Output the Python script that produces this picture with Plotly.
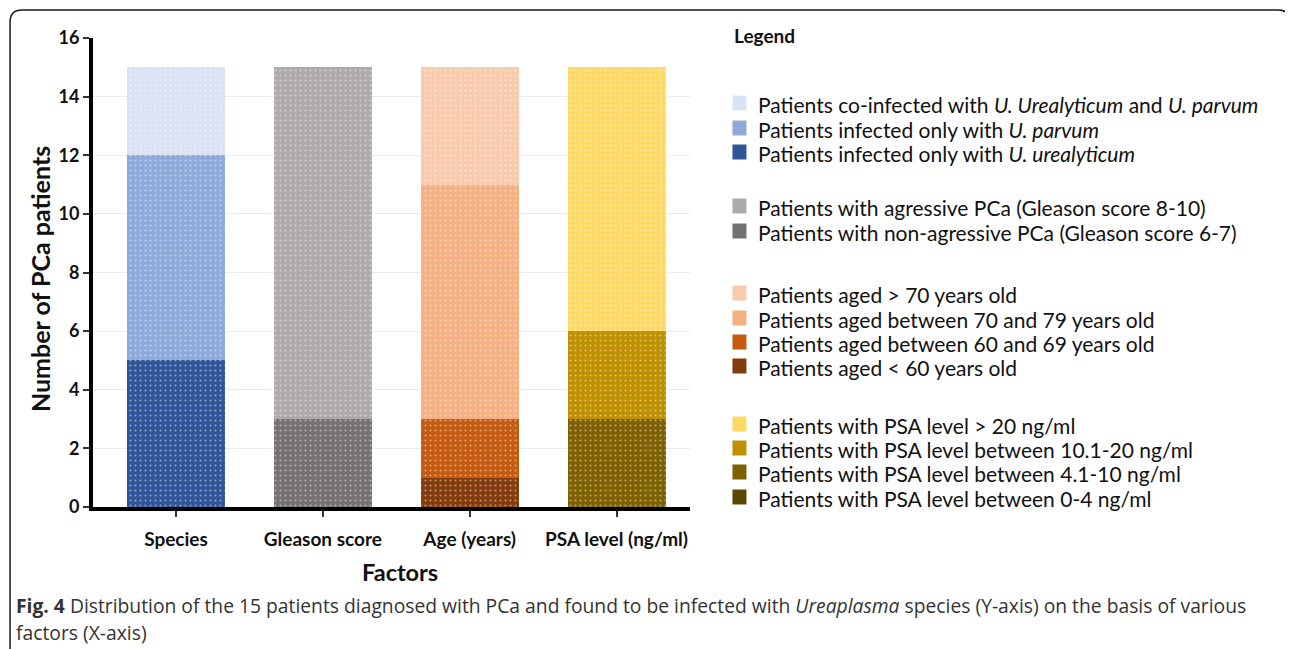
import plotly.graph_objects as go

# ---------------- data ----------------
categories = ["Species", "Gleason score", "Age (years)", "PSA level (ng/ml)"]

# each group listed bottom -> top of its stacked bar
species_names = ["Patients infected only with <i>U. urealyticum</i>",
                 "Patients infected only with <i>U. parvum</i>",
                 "Patients co-infected with <i>U. Urealyticum</i> and <i>U. parvum</i>"]
species_values = [5, 7, 3]
species_colors = ["#2f5597", "#8eaadb", "#dae3f3"]

gleason_names = ["Patients with non-agressive PCa (Gleason score 6-7)",
                 "Patients with agressive PCa (Gleason score 8-10)"]
gleason_values = [3, 12]
gleason_colors = ["#767171", "#aeaaaa"]

age_names = ["Patients aged < 60 years old",
             "Patients aged between 60 and 69 years old",
             "Patients aged between 70 and 79 years old",
             "Patients aged > 70 years old"]
age_values = [1, 2, 8, 4]
age_colors = ["#843c0c", "#c55a11", "#f4b183", "#f8cbad"]

psa_names = ["Patients with PSA level between 0-4 ng/ml",
             "Patients with PSA level between 4.1-10 ng/ml",
             "Patients with PSA level between 10.1-20 ng/ml",
             "Patients with PSA level > 20 ng/ml"]
psa_values = [0, 3, 3, 9]
psa_colors = ["#5c4600", "#7f6000", "#bf9000", "#ffd966"]

y_ticks = [0, 2, 4, 6, 8, 10, 12, 14, 16]

groups = [(categories[0], species_names, species_values, species_colors),
          (categories[1], gleason_names, gleason_values, gleason_colors),
          (categories[2], age_names, age_values, age_colors),
          (categories[3], psa_names, psa_values, psa_colors)]

# ---------------- layout geometry (page pixels; page has an 8px body margin) ----------------
OFF = 8
W, H = 1293 - OFF, 649 - OFF
L, R, T, B = 93 - OFF, 690.5 - OFF, 38 - OFF, 507 - OFF

def px(x):
    return ((x - OFF) - L) / (R - L)

def py(y):
    return (B - (y - OFF)) / (B - T)

FONT = "Lato"

fig = go.Figure()
for cat, names, vals, cols in groups:
    for n, v, c in zip(names, vals, cols):
        fig.add_trace(go.Bar(
            x=[cat], y=[v], name=n, width=0.667,
            marker=dict(color=c, line=dict(width=0),
                        pattern=dict(shape=".", fgcolor="white", fgopacity=0.45,
                                     size=5, solidity=0.14)),
            showlegend=False, hoverinfo="skip"))

shapes = []
annotations = []

# frame with rounded top corners
r = 12
x0, x1, y0 = 10, 1291, 10
path = (f"M {px(x0)},{py(660)} L {px(x0)},{py(y0+r)} "
        f"Q {px(x0)},{py(y0)} {px(x0+r)},{py(y0)} "
        f"L {px(x1-r)},{py(y0)} Q {px(x1)},{py(y0)} {px(x1)},{py(y0+r)} "
        f"L {px(x1)},{py(660)}")
shapes.append(dict(type="path", xref="paper", yref="paper", path=path,
                   line=dict(color="#1a1a1a", width=1.5)))

# custom legend
annotations.append(dict(xref="paper", yref="paper", x=px(733), y=py(36),
                        xanchor="left", yanchor="middle", showarrow=False,
                        text="<b>Legend</b>",
                        font=dict(family=FONT, size=19, color="#111")))
legend_rows = [[103, 128, 152], [206, 231], [293, 318, 342, 366], [424, 448, 472, 497]]
for (cat, names, vals, cols), rows in zip(groups, legend_rows):
    for (n, c), yy in zip(list(zip(names, cols))[::-1], rows):
        shapes.append(dict(type="rect", xref="paper", yref="paper",
                           x0=px(733), x1=px(747), y0=py(yy - 7.5), y1=py(yy + 7.5),
                           fillcolor=c, line=dict(width=0)))
        annotations.append(dict(xref="paper", yref="paper", x=px(757), y=py(yy + 1),
                                xanchor="left", yanchor="middle", showarrow=False,
                                text=n, font=dict(family=FONT, size=21, color="#111")))

# axis titles
annotations.append(dict(xref="paper", yref="paper", x=px(40), y=py(279),
                        xanchor="center", yanchor="middle", showarrow=False, textangle=-90,
                        text="<b>Number of PCa patients</b>",
                        font=dict(family=FONT, size=25, color="#111")))
annotations.append(dict(xref="paper", yref="paper", x=px(400), y=py(572),
                        xanchor="center", yanchor="middle", showarrow=False,
                        text="<b>Factors</b>",
                        font=dict(family=FONT, size=23.5, color="#111")))

# caption
CAP = "Open Sans"
annotations.append(dict(xref="paper", yref="paper", x=px(14), y=py(605),
                        xanchor="left", yanchor="middle", showarrow=False,
                        text="<b>Fig. 4</b> Distribution of the 15 patients diagnosed with PCa and found to be infected with <i>Ureaplasma</i> species (Y-axis) on the basis of various",
                        font=dict(family=CAP, size=19.3, color="#333")))
annotations.append(dict(xref="paper", yref="paper", x=px(14), y=py(632),
                        xanchor="left", yanchor="middle", showarrow=False,
                        text="factors (X-axis)",
                        font=dict(family=CAP, size=19.3, color="#333")))

fig.update_layout(
    width=W, height=H, barmode="stack",
    margin=dict(l=L, r=W - R, t=T, b=H - B, pad=0),
    paper_bgcolor="white", plot_bgcolor="white",
    showlegend=False, shapes=shapes, annotations=annotations,
    xaxis=dict(range=[-0.565, 3.5], showline=True, linecolor="black", linewidth=4,
               ticks="outside", ticklen=6, tickwidth=1.5, tickcolor="#333",
               tickfont=dict(family=FONT, size=19, color="#111", weight="bold"),
               ticklabelstandoff=6, showgrid=False, fixedrange=True),
    yaxis=dict(range=[0, 16], tickvals=y_ticks, showline=True, linecolor="black", linewidth=4,
               ticks="outside", ticklen=6, tickwidth=1.5, tickcolor="#333",
               tickfont=dict(family=FONT, size=18, color="#111", weight="bold"),
               showgrid=True, gridcolor="#ececec", gridwidth=1, zeroline=False,
               fixedrange=True),
)

fig.write_html("out.html")
